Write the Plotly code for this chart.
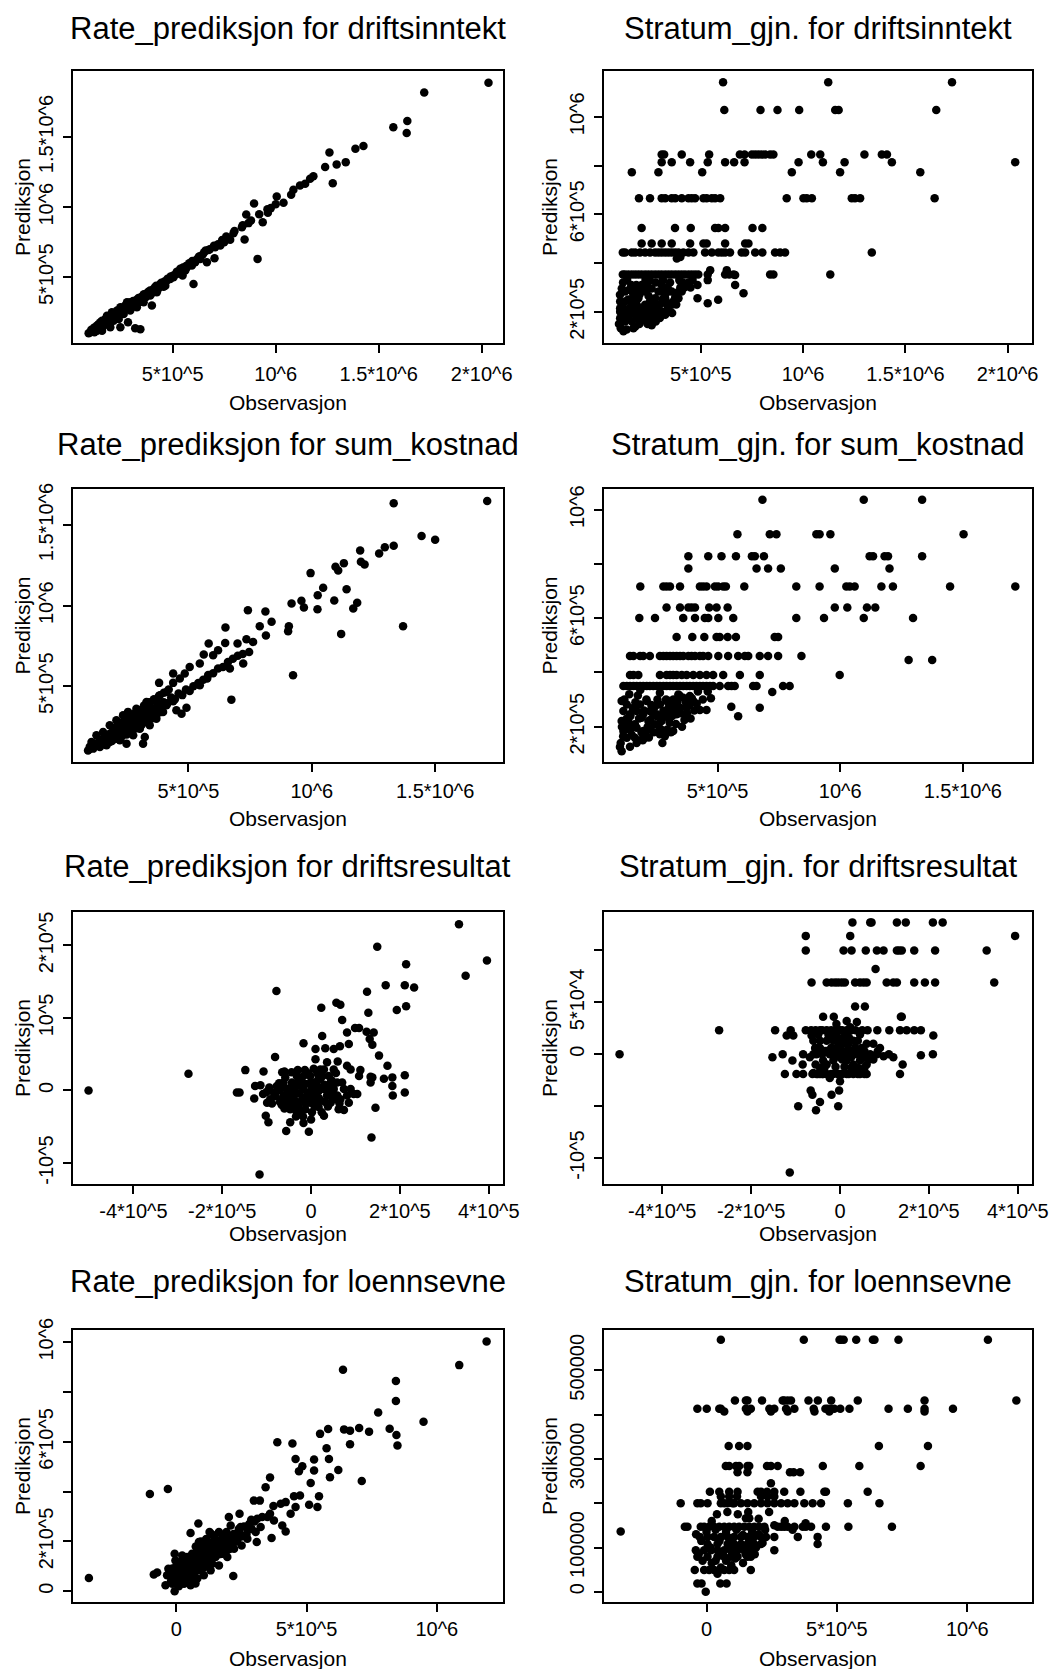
import plotly.graph_objects as go

W, H = 1053, 1669
FONT = "Liberation Sans, Arial, Helvetica, sans-serif"

# ---------------- data (all values in thousands) ----------------
# Rate_prediksjon for driftsinntekt: (observasjon, prediksjon)
rate_driftsinntekt = [
    (2033, 1888), (1721, 1817), (1639, 1614), (1571, 1569), (1636, 1529), (1426, 1436), (1387, 1417),
    (1261, 1390), (1340, 1321), (1296, 1305), (1240, 1286), (1277, 1171), (1183, 1221), (1167, 1202),
    (1143, 1167), (1118, 1155), (1086, 1124), (1075, 1088), (1038, 1031), (1005, 1076), (976, 993),
    (962, 960), (937, 893), (895, 1026), (857, 948), (868, 886), (836, 857), (795, 814), (779, 767),
    (849, 769), (750, 750), (731, 726), (706, 714), (674, 695), (653, 679), (626, 643), (666, 607),
    (703, 636), (912, 631), (593, 583), (569, 571), (537, 560), (548, 512), (601, 452), (504, 500),
    (488, 488), (472, 476), (456, 433), (440, 452), (415, 429), (399, 405), (391, 369), (375, 381),
    (367, 357), (399, 298), (351, 345), (335, 321), (310, 298), (294, 321), (278, 321), (270, 298),
    (262, 274), (246, 286), (230, 262), (221, 238), (205, 250), (197, 214), (181, 226), (173, 202),
    (157, 190), (149, 179), (141, 167), (133, 155), (124, 143), (116, 131), (108, 119), (100, 107),
    (92, 100), (246, 143), (283, 179), (318, 136), (343, 129), (149, 131), (181, 167), (213, 190),
    (238, 202), (165, 155), (197, 179), (221, 214), (262, 238), (294, 262), (326, 286), (359, 321),
    (423, 393), (464, 440), (520, 524), (561, 548), (609, 607), (634, 631), (197, 143), (133, 119),
    (157, 119), (120, 107),
    (105, 125), (118, 140), (128, 132), (138, 160), (146, 150), (155, 175), (162, 168), (170, 190),
    (178, 182), (186, 205), (193, 198), (202, 222), (210, 215), (218, 232), (226, 250), (234, 245),
    (242, 262), (250, 255), (258, 282), (266, 270), (275, 290), (284, 300), (292, 288), (300, 315),
    (308, 330), (316, 310), (325, 340), (334, 352), (342, 335), (352, 365), (360, 378), (370, 360),
    (380, 395), (390, 405), (400, 388), (410, 420), (420, 440), (430, 418), (445, 460), (460, 470),
    (475, 490), (490, 505), (505, 515), (520, 540), (535, 545), (550, 570), (565, 580), (580, 600),
    (595, 615), (615, 625), (630, 650), (645, 660), (660, 690), (680, 700), (700, 725), (720, 735),
    (740, 765), (760, 790), (800, 830), (840, 870), (880, 905), (920, 950), (960, 985), (1000, 1020),
]

# Stratum_gjn. for driftsinntekt: (prediksjon level, [observasjon ...])
stratum_driftsinntekt_levels = [
    (1142, [609, 1123, 1728]),
    (1028, [615, 792, 875, 981, 1157, 1174, 1651]),
    (845, [309, 321, 407, 541, 691, 714, 750, 766, 782, 798, 815, 839, 855, 1040, 1084, 1300, 1385, 1410]),
    (814, [309, 358, 448, 534, 619, 663, 714, 978, 1097, 1203, 1434, 2037]),
    (773, [163, 293, 507, 945, 1181, 1573]),
    (666, [198, 252, 309, 326, 358, 375, 407, 440, 456, 472, 513, 529, 554, 570, 595, 920, 1002, 1018,
           1043, 1238, 1254, 1279, 1643]),
    (544, [211, 374, 451, 570, 586, 619, 753, 801]),
    (480, [211, 260, 309, 358, 448, 513, 529, 619, 717, 733]),
    (443, [119, 130, 163, 179, 203, 228, 252, 277, 293, 309, 326, 342, 358, 375, 391, 415, 440, 464, 521,
           554, 586, 603, 619, 643, 700, 717, 766, 801, 863, 888, 912, 1336]),
    (353, [119, 130, 146, 163, 179, 195, 211, 228, 244, 260, 277, 293, 309, 326, 342, 358, 375, 391, 407,
           423, 440, 456, 472, 488, 534, 619, 639, 660, 839, 855, 1133]),
    (200, [106, 122, 138, 154, 171, 187, 203, 220, 236, 252, 268]),
]
stratum_driftsinntekt_extra = [
    (383, 419), (400, 425), (546, 371), (627, 371), (668, 351), (534, 330), (668, 310), (484, 310),
    (709, 276), (484, 256), (534, 235), (585, 249), (109, 133), (122, 120), (138, 127), (171, 133),
    (106, 242), (130, 242), (163, 242), (195, 256), (228, 229), (260, 201), (293, 229), (326, 256),
    (358, 283), (391, 256), (407, 283), (114, 201), (146, 174), (179, 188), (211, 201), (244, 215),
    (277, 256), (309, 283), (342, 283), (106, 174), (130, 160), (163, 160), (195, 174), (228, 283),
    (260, 296), (130, 283), (163, 296), (195, 283), (114, 296), (211, 310), (309, 310), (342, 201),
    (326, 188), (358, 229), (293, 283), (252, 242), (106, 215), (130, 188), (154, 215), (187, 229),
    (285, 174), (236, 181),
    (100, 150), (112, 165), (125, 180), (138, 195), (150, 210), (162, 225), (175, 240), (188, 255),
    (200, 270), (212, 285), (225, 300), (238, 315), (250, 330), (262, 170), (275, 190), (288, 210),
    (300, 230), (312, 250), (325, 270), (338, 300), (350, 320), (362, 240), (375, 260), (388, 280),
    (400, 300), (412, 320), (120, 320), (140, 330), (160, 310), (180, 140), (200, 150), (220, 165),
    (240, 150), (260, 145), (280, 160), (300, 175), (320, 200), (340, 215), (360, 195), (380, 230),
    (105, 270), (118, 225), (145, 250), (170, 270), (198, 215), (215, 190), (245, 265), (270, 225),
    (295, 205), (330, 235), (150, 290), (185, 310), (230, 330), (280, 320), (315, 330), (395, 330),
    (420, 300), (440, 320), (460, 330), (450, 300),
]

# Rate_prediksjon for sum_kostnad
rate_sum_kostnad = [
    (1711, 1649), (1332, 1635), (1445, 1432), (1500, 1409), (1332, 1372), (1296, 1363), (1273, 1324),
    (1196, 1343), (1199, 1272), (1214, 1256), (1130, 1264), (1096, 1241), (1107, 1218), (995, 1202),
    (1046, 1111), (1024, 1065), (1141, 1102), (1091, 1032), (1184, 1018), (1168, 982), (1023, 978),
    (958, 1030), (918, 1013), (968, 989), (1370, 873), (1119, 825), (907, 873), (904, 842), (924, 568),
    (741, 972), (812, 964), (789, 873), (837, 900), (814, 815), (650, 864), (735, 792), (649, 769),
    (699, 765), (762, 775), (746, 713), (722, 641), (668, 610), (582, 765), (620, 724), (600, 693),
    (562, 697), (546, 641), (505, 620), (485, 579), (438, 579), (465, 548), (438, 521), (546, 506),
    (576, 548), (674, 417), (438, 407), (492, 367), (472, 330), (451, 351), (381, 521), (411, 465),
    (384, 444), (370, 407), (343, 382), (330, 403), (316, 361), (357, 320), (303, 320), (276, 310),
    (255, 341), (249, 289), (235, 278), (222, 258), (208, 247), (195, 227), (181, 206), (168, 196),
    (154, 175), (141, 165), (127, 144), (114, 134), (100, 113), (93, 102), (323, 185), (316, 144),
    (249, 144), (276, 196), (303, 237), (330, 278), (343, 258), (370, 299), (397, 341), (411, 382),
    (249, 216), (208, 196), (181, 154), (141, 123), (127, 196), (154, 216), (181, 258), (208, 289),
    (235, 320), (289, 361), (262, 237), (222, 165), (168, 134), (114, 113), (107, 154),
    (100, 125), (110, 120), (120, 145), (130, 135), (140, 150), (150, 165), (160, 155), (170, 180),
    (180, 175), (190, 200), (200, 190), (210, 220), (220, 210), (230, 240), (240, 230), (250, 260),
    (260, 255), (270, 280), (280, 270), (290, 300), (300, 295), (310, 330), (320, 310), (330, 345),
    (340, 330), (350, 365), (360, 350), (375, 380), (390, 370), (400, 400), (415, 395), (430, 430),
    (445, 420), (460, 455), (475, 445), (490, 480), (505, 470), (520, 500), (540, 520), (560, 540),
    (580, 570), (600, 580), (620, 610), (640, 620), (660, 650), (680, 670), (700, 690), (720, 700),
    (200, 240), (220, 260), (240, 280), (260, 300), (280, 330), (300, 350), (320, 380), (340, 400),
    (360, 420), (380, 440), (400, 460), (420, 480), (150, 140), (170, 150), (190, 160), (210, 175),
    (230, 190), (250, 200), (270, 220), (290, 240), (310, 260), (330, 280), (350, 300), (370, 320),
    (390, 340),
]

# Stratum_gjn. for sum_kostnad
stratum_sum_kostnad_levels = [
    (1036, [683, 1096, 1334]),
    (909, [581, 713, 740, 903, 916, 960, 1503]),
    (828, [381, 462, 516, 575, 640, 652, 689, 1120, 1134, 1181, 1195, 1334]),
    (783, [381, 659, 706, 758, 978, 1201]),
    (717, [185, 279, 292, 306, 347, 428, 441, 455, 489, 502, 523, 534, 609, 821, 916, 1025, 1039, 1059,
           1168, 1215, 1448, 1714]),
    (639, [292, 347, 381, 394, 408, 466, 496, 541, 978, 1029, 1109, 1143]),
    (601, [181, 245, 360, 408, 448, 462, 503, 564, 821, 934, 1096, 1297]),
    (531, [333, 397, 446, 496, 509, 541, 575, 733, 747]),
    (461, [143, 157, 184, 197, 224, 265, 279, 292, 306, 319, 333, 347, 360, 381, 394, 408, 428, 441, 462,
           503, 543, 584, 611, 625, 672, 706, 747, 842]),
    (446, [1279, 1375]),
    (391, [143, 157, 177, 265, 292, 306, 319, 333, 354, 374, 401, 428, 455, 482, 523, 591, 672, 998]),
    (350, [116, 130, 143, 157, 170, 184, 197, 211, 224, 238, 252, 265, 279, 292, 306, 319, 333, 347, 360,
           374, 387, 401, 414, 428, 441, 455, 469, 482, 509, 543, 557, 570, 645, 659, 767, 794]),
]
stratum_sum_kostnad_extra = [
    (723, 328), (473, 305), (455, 262), (428, 262), (556, 274), (672, 270), (584, 239),
    (109, 295), (130, 282), (157, 270), (184, 282), (211, 295), (238, 270), (265, 282), (292, 295),
    (319, 282), (347, 270), (374, 270), (401, 295), (116, 258), (143, 246), (170, 258), (197, 246),
    (224, 258), (252, 246), (279, 258), (306, 246), (333, 246), (109, 221), (136, 221), (163, 209),
    (190, 233), (218, 221), (245, 209), (272, 221), (299, 233), (116, 184), (143, 190), (170, 196),
    (197, 184), (224, 190), (265, 190), (319, 184), (130, 159), (163, 159), (204, 159), (102, 125),
    (109, 110), (143, 126), (191, 153), (265, 172), (306, 295), (360, 307), (387, 313), (340, 319),
    (105, 140), (115, 165), (125, 190), (135, 215), (145, 240), (155, 265), (165, 290), (175, 315),
    (185, 335), (195, 150), (205, 175), (215, 200), (225, 225), (235, 250), (245, 275), (255, 300),
    (265, 325), (275, 140), (285, 165), (295, 190), (305, 215), (315, 240), (325, 265), (335, 290),
    (345, 315), (355, 200), (365, 225), (375, 250), (385, 280), (395, 305), (405, 260), (415, 285),
    (120, 300), (140, 320), (160, 200), (180, 230), (200, 260), (220, 160), (240, 180), (260, 210),
    (280, 240), (300, 270), (320, 300), (110, 200), (130, 230), (150, 170), (170, 140), (190, 180),
    (210, 300), (230, 280), (250, 240), (270, 190), (290, 300), (310, 180), (330, 210), (350, 250),
    (370, 290), (390, 230), (420, 330), (440, 300), (460, 330),
]

# Rate_prediksjon for driftsresultat
rate_driftsresultat = [
    (333, 229), (149, 198), (396, 179), (214, 174), (348, 158), (168, 145), (211, 145), (232, 142),
    (126, 136), (-78, 137), (57, 121), (66, 118), (23, 114), (214, 116), (193, 111), (129, 107),
    (70, 97), (99, 86), (108, 86), (125, 81), (141, 80), (81, 80), (132, 71), (138, 63), (25, 75),
    (85, 64), (65, 61), (51, 57), (-17, 65), (10, 57), (32, 58), (153, 48), (172, 34), (60, 40),
    (51, 29), (81, 34), (89, 29), (111, 28), (108, 20), (134, 19), (138, 18), (183, 18), (211, 21),
    (183, 6), (211, -3), (184, -7), (145, -24), (136, -65), (-5, -57), (-56, -56), (-17, -45),
    (-47, -44), (-96, -44), (-102, -35), (-60, -25), (-81, 46), (-65, 25), (-107, 26), (-148, 28),
    (-276, 23), (-501, 0), (-116, -116), (29, -35), (62, -26), (74, -27), (81, -7), (96, -5), (66, -12),
    (-161, -3), (-167, -3), (-126, 6), (-114, 7), (-128, -11), (-108, -5), (-99, -17), (-92, -12),
    (-84, -3), (-77, 6), (-69, 2), (-62, -7), (-54, -17), (-47, -12), (-39, -3), (-32, 6), (-24, 11),
    (-17, 2), (-9, -7), (-2, -17), (6, -3), (14, 6), (21, 16), (29, 2), (36, -7), (44, -3), (51, 2),
    (59, -7), (-2, 20), (-17, 20), (-32, 20), (-43, 11), (-54, 2), (-62, 11), (-65, -12), (-47, -26),
    (-32, -30), (-13, -26), (2, -30), (17, -23), (-20, -12), (-28, -21), (21, 29), (36, 39), (10, 43),
    (17, 20), (44, 11), (70, 11), (89, 2), (104, -5), (85, -17), (74, 2), (59, 11), (40, 20), (29, 29),
    (44, -17), (10, -12), (-13, 9), (2, 4), (-5, -3), (17, -10), (-39, -17), (134, 11), (164, 16),
    (-80, -8), (-72, 10), (-66, -20), (-58, 18), (-50, -5), (-44, 25), (-36, -14), (-28, 14), (-22, -28),
    (-14, 28), (-6, -10), (0, 12), (8, -22), (14, 24), (22, -14), (30, 8), (38, -22), (46, 14), (54, -12),
    (-76, 0), (-64, 4), (-52, -14), (-40, -8), (-26, -4), (-12, -18), (4, -8), (18, 0), (32, -16),
    (48, -8), (-70, -16), (-56, -24), (-42, -24), (-8, 24), (6, 30), (26, 20), (-30, 28), (-46, 4),
    (-20, 6), (12, 12), (40, 6), (-60, 26), (-34, -36), (-18, -36), (0, -40), (24, -30), (56, 24),
    (64, -18), (-88, -18), (-94, 4), (-100, -2),
]

# Stratum_gjn. for driftsresultat
stratum_driftsresultat_levels = [
    (127, [28, 68, 71, 128, 148, 209, 231]),
    (114, [-77, 23, 394]),
    (100, [-77, 8, 26, 58, 83, 98, 128, 133, 139, 167, 214, 330]),
    (82, [80]),
    (69, [-64, -30, -19, -11, -4, 4, 11, 34, 45, 53, 60, 105, 120, 128, 167, 191, 214, 347]),
    (46, [34, 56]),
    (36, [-38, -14, 137, 139]),
    (23, [-272, -146, -111, -77, -65, -55, -45, -40, -30, -20, -10, 5, 15, 25, 35, 50, 62, 84, 111, 135,
          150, 167, 182]),
    (18, [-120, -105, -64, 210]),
    (-19, [-124, -98, -83, -62, -53, -50, -40, -38, -20, -5, 5, 20, 40, 55, 60, 135]),
]
stratum_driftsresultat_extra = [
    (-496, 0), (-152, -3), (-129, 0), (-107, -6), (-83, 0), (182, -1), (209, 0), (141, -10), (-84, -10),
    (-66, -35), (-62, -39), (-45, -46), (-19, -39), (-2, -35), (-94, -50), (-54, -54), (-4, -50),
    (-113, -114),
    (-60, 13), (-45, 6), (-30, 13), (-15, 19), (0, 23), (15, 19), (30, 13), (45, 19), (60, 10), (-53, 0),
    (-38, -6), (-23, 0), (-8, 6), (8, 10), (23, 3), (38, 0), (53, -3), (68, 0), (83, 0), (98, -2),
    (-45, -13), (-30, -10), (-15, -6), (0, -3), (15, -6), (30, -10), (45, -6), (60, -10), (-60, -18),
    (-45, -19), (-30, -19), (-15, -19), (0, -19), (15, -19), (30, -19), (45, -19), (-23, -23), (0, -26),
    (-15, 13), (8, 16), (23, 26), (38, 31), (15, 32), (-8, 29), (-26, 19), (-49, 19), (-11, 3), (4, 3),
    (19, 10), (34, 6), (49, 6), (75, 10), (90, 6), (-34, 3), (-56, 6),
    (-68, -3), (-60, 0), (-50, 6), (-40, 0), (-30, 3), (-20, 6), (-5, 0), (5, -5), (15, 3), (25, -3),
    (35, 6), (45, 0), (55, 3), (65, -5), (75, -5), (85, 3), (-55, -10), (-35, -13), (-10, -12), (10, -12),
    (25, -13), (40, -13), (55, -13), (-25, 16), (-5, 16), (20, 16), (40, 13), (-45, 13), (0, 10), (10, 0),
    (30, 0), (-15, 0), (110, 0), (120, -3),
]

# Rate_prediksjon for loennsevne
rate_loennsevne = [
    (1191, 1003), (1086, 908), (640, 889), (843, 844), (843, 764), (775, 718), (949, 681), (702, 656),
    (740, 641), (819, 653), (845, 627), (849, 585), (644, 650), (667, 645), (667, 590), (583, 652),
    (552, 632), (577, 574), (586, 531), (529, 529), (529, 485), (590, 458), (622, 487), (712, 443),
    (516, 435), (458, 531), (484, 502), (471, 482), (388, 598), (446, 593), (360, 457), (343, 418),
    (548, 382), (542, 338), (510, 347), (475, 385), (452, 382), (458, 338), (439, 311), (420, 358),
    (401, 351), (373, 342), (360, 311), (375, 284), (407, 264), (420, 240), (366, 214), (321, 364),
    (298, 364), (288, 287), (311, 291), (330, 298), (350, 298), (324, 258), (305, 238), (309, 198),
    (273, 251), (243, 311), (247, 258), (228, 224), (202, 298), (209, 264), (193, 238), (164, 238),
    (145, 224), (128, 238), (85, 272), (55, 234), (87, 198), (-6, 151), (219, 61), (-101, 391),
    (-32, 411), (-335, 53), (-86, 67), (-73, 75), (-41, 24), (-6, 0), (55, 24), (74, 31), (-35, 64),
    (-15, 91), (4, 111), (23, 124), (42, 138), (61, 151), (81, 164), (100, 178), (119, 184), (138, 198),
    (157, 204), (177, 218), (196, 198), (215, 184), (234, 204), (251, 184), (273, 211), (170, 171),
    (145, 144), (119, 131), (93, 117), (68, 97), (42, 84), (17, 71), (-9, 51), (-22, 71), (4, 57),
    (23, 84), (49, 111), (74, 124), (100, 144), (125, 158), (157, 171), (190, 158), (222, 171),
    (196, 138), (164, 104), (132, 84), (106, 64), (81, 51), (93, 84), (119, 104), (55, 64), (36, 44),
    (17, 31), (61, 51), (23, 144), (-3, 124), (138, 111), (151, 138), (177, 151), (209, 211), (241, 238),
    (-20, 40), (-10, 60), (0, 80), (10, 45), (20, 100), (30, 60), (40, 120), (50, 90), (60, 130),
    (70, 75), (80, 140), (90, 100), (100, 160), (110, 120), (120, 170), (130, 140), (140, 180),
    (150, 160), (160, 190), (170, 150), (180, 200), (190, 180), (200, 220), (210, 190), (220, 230),
    (230, 200), (240, 250), (250, 220), (260, 260), (270, 230), (280, 270), (290, 250), (300, 280),
    (10, 20), (30, 30), (45, 110), (65, 140), (85, 110), (105, 95), (125, 130), (145, 170), (165, 150),
    (185, 170), (205, 170), (0, 100), (-30, 90), (25, 55), (-15, 30), (75, 180), (95, 200), (115, 210),
    (135, 230),
]

# Stratum_gjn. for loennsevne
stratum_loennsevne_levels = [
    (569, [55, 373, 510, 516, 526, 574, 638, 644, 736, 1079]),
    (432, [109, 151, 157, 213, 292, 298, 311, 324, 391, 427, 478, 580, 836, 1188]),
    (413, [-35, 1, 49, 55, 151, 170, 241, 260, 305, 337, 411, 456, 465, 478, 490, 513, 548, 698, 772,
           836, 945]),
    (407, [68, 157, 247, 311, 414, 471, 836]),
    (329, [85, 125, 157, 661, 849]),
    (284, [74, 87, 113, 125, 157, 164, 232, 247, 273, 446, 586, 821]),
    (270, [119, 157, 320, 334, 359]),
    (245, [247]),
    (226, [13, 49, 87, 119, 196, 209, 232, 260, 298, 360, 452, 458, 618]),
    (215, [55, 87, 117, 209, 234, 260]),
    (200, [-99, -35, -22, 4, 55, 68, 81, 106, 132, 157, 183, 209, 234, 260, 286, 311, 337, 375, 407,
           439, 542, 663]),
    (166, [151, 164]),
    (147, [-83, -73, -22, -9, 10, 29, 49, 68, 87, 106, 125, 145, 164, 183, 202, 222, 273, 286, 298,
           311, 337, 369, 381, 401, 458, 544, 711]),
    (136, [-329]),
    (124, [-26, 4, 29, 55, 81, 106, 132, 157, 183, 209, 228, 260, 350, 426]),
    (108, [4, 42, 81, 106, 132, 157, 183, 209, 426]),
    (94, [-41, -9, 17, 42, 68, 93, 119, 145, 170, 260]),
    (79, [-35, 4, 42, 68, 93, 119, 157, 170]),
    (49, [-45, -9, 10, 29, 49, 68, 87, 106, 170]),
    (41, [42]),
    (19, [-35, -19, 53, 77]),
    (0, [-3]),
]
stratum_loennsevne_extra = [
    (-40, 130), (-20, 115), (0, 135), (15, 100), (35, 140), (50, 115), (60, 85), (75, 135), (90, 118),
    (100, 90), (115, 140), (130, 100), (140, 128), (150, 85), (165, 115), (175, 135), (190, 100),
    (200, 130), (215, 110), (225, 140), (-30, 85), (-15, 70), (20, 65), (35, 70), (55, 55), (75, 70),
    (95, 60), (110, 75), (140, 65), (160, 95), (185, 85), (20, 160), (40, 175), (80, 180), (120, 175),
    (160, 180), (200, 165), (240, 180), (260, 150), (100, 200), (300, 160), (330, 140), (380, 155),
]

# ---------------- axis tick definitions (values in thousands) ----------------
ticks_obs_big = ([500, 1000, 1500, 2000], ["5*10^5", "10^6", "1.5*10^6", "2*10^6"])
ticks_obs_mid = ([500, 1000, 1500], ["5*10^5", "10^6", "1.5*10^6"])
ticks_obs_res = ([-400, -200, 0, 200, 400], ["-4*10^5", "-2*10^5", "0", "2*10^5", "4*10^5"])
ticks_obs_loe = ([0, 500, 1000], ["0", "5*10^5", "10^6"])
ticks_pred_rate_big = ([500, 1000, 1500], ["5*10^5", "10^6", "1.5*10^6"])
ticks_pred_strat = ([200, 400, 600, 800, 1000], ["2*10^5", "", "6*10^5", "", "10^6"])
ticks_pred_res_rate = ([-100, 0, 100, 200], ["-10^5", "0", "10^5", "2*10^5"])
ticks_pred_res_strat = ([-100, -50, 0, 50, 100], ["-10^5", "", "0", "5*10^4", ""])
ticks_pred_loe_rate = ([0, 200, 400, 600, 800, 1000], ["0", "2*10^5", "", "6*10^5", "", "10^6"])
ticks_pred_loe_strat = ([0, 100, 200, 300, 400, 500], ["0", "100000", "", "300000", "", "500000"])


def expand_levels(levels, extra):
    xs, ys = [], []
    for yv, xlist in levels:
        for xv in xlist:
            xs.append(xv)
            ys.append(yv)
    for xv, yv in extra:
        xs.append(xv)
        ys.append(yv)
    return xs, ys


def split(pairs):
    return [p[0] for p in pairs], [p[1] for p in pairs]


panels = [
    dict(title="Rate_prediksjon for driftsinntekt", xy=split(rate_driftsinntekt), col=0, row=0,
         xr=[16, 2101], yr=[31, 1971], xt=ticks_obs_big, yt=ticks_pred_rate_big),
    dict(title="Stratum_gjn. for driftsinntekt",
         xy=expand_levels(stratum_driftsinntekt_levels, stratum_driftsinntekt_extra), col=1, row=0,
         xr=[27, 2119], yr=[72, 1188], xt=ticks_obs_big, yt=ticks_pred_strat),
    dict(title="Rate_prediksjon for sum_kostnad", xy=split(rate_sum_kostnad), col=0, row=1,
         xr=[32, 1773], yr=[30, 1724], xt=ticks_obs_mid, yt=ticks_pred_rate_big),
    dict(title="Stratum_gjn. for sum_kostnad",
         xy=expand_levels(stratum_sum_kostnad_levels, stratum_sum_kostnad_extra), col=1, row=1,
         xr=[37, 1782], yr=[70, 1076], xt=ticks_obs_mid, yt=ticks_pred_strat),
    dict(title="Rate_prediksjon for driftsresultat", xy=split(rate_driftsresultat), col=0, row=2,
         xr=[-536, 431], yr=[-129, 246], xt=ticks_obs_res, yt=ticks_pred_res_rate),
    dict(title="Stratum_gjn. for driftsresultat",
         xy=expand_levels(stratum_driftsresultat_levels, stratum_driftsresultat_extra), col=1, row=2,
         xr=[-531, 432], yr=[-125, 137], xt=ticks_obs_res, yt=ticks_pred_res_strat),
    dict(title="Rate_prediksjon for loennsevne", xy=split(rate_loennsevne), col=0, row=3,
         xr=[-396, 1252], yr=[-43, 1049], xt=ticks_obs_loe, yt=ticks_pred_loe_rate),
    dict(title="Stratum_gjn. for loennsevne",
         xy=expand_levels(stratum_loennsevne_levels, stratum_loennsevne_extra), col=1, row=3,
         xr=[-393, 1248], yr=[-23, 591], xt=ticks_obs_loe, yt=ticks_pred_loe_strat),
]

# layout geometry in pixels
COL_X = [(73, 502.5), (604, 1032)]
ROW_Y = [(71, 343), (489, 762), (912, 1184), (1330, 1602)]
TITLE_Y = [29, 444, 866, 1281]
XLAB_Y = [402, 819, 1233, 1658]
XTICK_STANDOFF = [4, 2, 0, 0]
YLAB_X = [22, 549]

fig = go.Figure()
layout = dict(
    width=W, height=H, margin=dict(l=0, r=0, t=0, b=0, pad=0, autoexpand=False),
    paper_bgcolor="white", plot_bgcolor="white", showlegend=False,
    font=dict(family=FONT, color="black"),
)
annotations = []

for i, p in enumerate(panels):
    n = i + 1
    xa = "x" if n == 1 else f"x{n}"
    ya = "y" if n == 1 else f"y{n}"
    x0, x1 = COL_X[p["col"]]
    y0, y1 = ROW_Y[p["row"]]
    xs, ys = p["xy"]
    fig.add_trace(go.Scatter(
        x=xs, y=ys, mode="markers", xaxis=xa, yaxis=ya,
        marker=dict(size=8.5, color="black", line=dict(width=0)),
        hoverinfo="skip",
    ))
    axis_common = dict(
        showgrid=False, zeroline=False, showline=True, mirror=True, automargin=False,
        linecolor="black", linewidth=2, ticks="outside", ticklen=8, tickwidth=1.5,
        tickcolor="black", tickfont=dict(family=FONT, size=20, color="black"),
        tickmode="array",
    )
    layout["xaxis" if n == 1 else f"xaxis{n}"] = dict(
        axis_common, domain=[x0 / W, x1 / W], range=p["xr"],
        tickvals=p["xt"][0], ticktext=p["xt"][1], anchor=ya,
        ticklabelstandoff=XTICK_STANDOFF[p["row"]],
    )
    layout["yaxis" if n == 1 else f"yaxis{n}"] = dict(
        axis_common, domain=[1 - y1 / H, 1 - y0 / H], range=p["yr"],
        tickvals=p["yt"][0], ticktext=p["yt"][1], anchor=xa,
        tickangle=-90, ticklabelstandoff=2,
    )
    cx = (x0 + x1) / 2
    annotations.append(dict(
        text=p["title"], x=cx / W, y=1 - TITLE_Y[p["row"]] / H, xref="paper", yref="paper",
        xanchor="center", yanchor="middle", showarrow=False,
        font=dict(family=FONT, size=31, color="black"),
    ))
    annotations.append(dict(
        text="Observasjon", x=cx / W, y=1 - XLAB_Y[p["row"]] / H, xref="paper", yref="paper",
        xanchor="center", yanchor="middle", showarrow=False,
        font=dict(family=FONT, size=21, color="black"),
    ))
    annotations.append(dict(
        text="Prediksjon", x=YLAB_X[p["col"]] / W, y=1 - ((y0 + y1) / 2) / H, xref="paper", yref="paper",
        xanchor="center", yanchor="middle", showarrow=False, textangle=-90,
        font=dict(family=FONT, size=21, color="black"),
    ))

layout["annotations"] = annotations
fig.update_layout(**layout)
fig.write_html("out.html", config={"displayModeBar": False},
               post_script="document.body.style.margin='0px';")
